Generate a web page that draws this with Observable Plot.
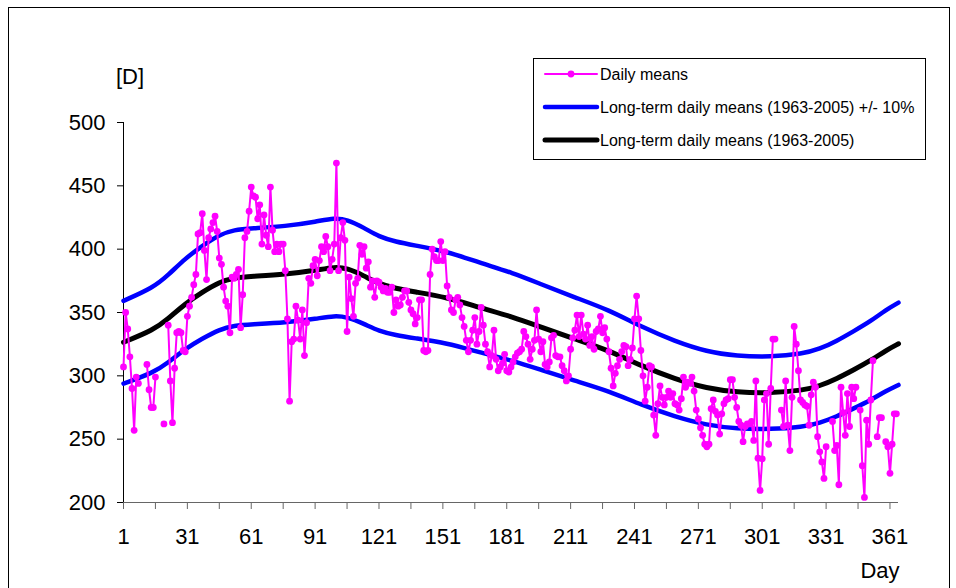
<!DOCTYPE html>
<html><head><meta charset="utf-8">
<script src="https://cdn.jsdelivr.net/npm/d3@7"></script>
<script src="https://cdn.jsdelivr.net/npm/@observablehq/plot@0.6"></script>
<style>
body{margin:0;background:#fff;}
#chart{position:relative;width:956px;height:588px;overflow:hidden;background:#fff}
</style>
</head><body><div id="chart"></div>
<script>
// Daily means, day 1..365 (null = no data)
const dailyMeans = [
307,350,337,315,290,257,299,294,null,null,
null,309,289,275,275,299,null,null,null,262,
null,340,296,263,306,334,335,334,320,319,
347,355,362,372,380,412,413,428,399,376,
409,416,421,426,414,393,388,370,359,355,
334,378,377,380,384,338,364,409,414,430,
449,442,441,424,435,404,427,411,402,449,
415,398,404,398,404,404,383,345,280,327,
329,355,344,329,352,316,342,377,373,387,
392,379,391,402,398,410,402,383,392,404,
468,383,409,421,407,335,378,361,347,373,
377,403,396,402,385,390,370,375,362,375,
374,370,367,369,366,366,370,350,360,355,
356,362,367,367,358,352,349,341,346,360,
360,320,319,320,380,400,394,391,391,406,
391,398,371,362,352,350,360,362,356,346,
339,328,319,328,336,346,325,335,354,340,
325,319,307,316,336,313,304,307,310,317,
304,303,307,311,315,318,319,321,335,331,
325,313,321,328,352,329,319,327,309,307,
311,330,332,316,315,315,308,304,296,300,
321,330,336,348,331,348,333,329,340,324,
331,321,335,337,347,334,338,329,319,306,
292,302,308,313,319,324,323,308,313,322,
345,363,345,320,300,280,291,308,307,269,
253,278,292,283,277,283,288,283,286,278,
277,273,282,299,291,295,294,299,288,273,
266,259,253,246,244,246,274,281,272,269,
254,270,278,281,282,297,297,283,275,264,
261,248,260,262,262,264,249,296,235,209.5,
234.5,281,286,246,290,329,329,null,null,273,
260,296,261,241,283,339,325,304,281,279,
277,276,261,285,295,291,252,240,232,219,
244,null,null,264,241,245,214,291,271,253,
286,260,291,282,291,null,273,229,204,265,
246,281,312,null,252,267,267,null,248,244,
223,246,270,270,null
];

// Long-term daily means (1963-2005), read at sample days
const meanDays   = [1,15,22,30,38,46,53,61,77,92,100,106,114,121,129,137,153,168,184,197,213,229,244,260,275,289,305,320,328,336,344,352,359,365];
const meanValues = [326.5,336,345,357,366,374,377.5,378.5,380,383.5,386,385,379,372.5,369,366.5,362,354,346.5,338.5,329,320,308,297.5,290,287,286.3,288.5,292,297.7,304.8,312,320,325.3];
// Long-term daily means +/- 10%
const upperValues = [359.2,369.6,379.5,392.7,402.6,411.4,415.3,416.4,418,421.9,424.6,423.5,416.9,409.8,405.9,403.2,398.2,389.4,381.2,372.4,361.9,352,338.8,327.3,319,315.7,314.9,317.4,321.2,327.5,335.3,343.2,352,357.8];
const lowerValues = [293.9,302.4,310.5,321.3,329.4,336.6,339.8,340.7,342,345.2,347.4,346.5,341.1,335.3,332.1,329.9,325.8,318.6,311.9,304.7,296.1,288,277.2,267.8,261,258.3,257.7,259.7,262.8,267.9,274.3,280.8,288,292.8];

const xTickLabels = [1,31,61,91,121,151,181,211,241,271,301,331,361];
const xMinorTicks = [1,16,31,46,61,76,91,106,121,136,151,166,181,196,211,226,241,256,271,286,301,316,331,346,361];
const yTicks = [200,250,300,350,400,450,500];
const legendLabels = ["Daily means","Long-term daily means (1963-2005) +/- 10%","Long-term daily means (1963-2005)"];
const colors = {daily:"#FF00FF", band:"#0000FF", mean:"#000000"};

const daily = dailyMeans.map((v,i)=>({day:i+1, value:v}));
const mean = meanDays.map((d,i)=>({day:d, mean:meanValues[i], upper:upperValues[i], lower:lowerValues[i]}));

const font = "'Liberation Sans', Arial, sans-serif";

const plot = Plot.plot({
  width:956, height:588,
  marginLeft:123, marginRight:58, marginTop:122, marginBottom:86,
  style:{fontFamily:font, fontSize:"22px", color:"#000", background:"#fff", overflow:"visible"},
  x:{domain:[1,365]},
  y:{domain:[200,500]},
  marks:[
    Plot.axisY({ticks:yTicks, tickSize:6, tickPadding:12, stroke:"#000", fontSize:22, label:null}),
    Plot.axisX({ticks:xMinorTicks, tickSize:7, stroke:"#666", tickFormat:()=>"", label:null}),
    Plot.axisX({ticks:xTickLabels, tickSize:0, tickPadding:26, fontSize:22, label:null}),
    Plot.ruleY([200], {stroke:"#666", strokeWidth:1}),
    Plot.ruleX([1], {stroke:"#000", strokeWidth:1}),
    Plot.line(mean, {x:"day", y:"upper", stroke:colors.band, strokeWidth:4.5, curve:"basis"}),
    Plot.line(mean, {x:"day", y:"lower", stroke:colors.band, strokeWidth:4.5, curve:"basis"}),
    Plot.line(mean, {x:"day", y:"mean", stroke:colors.mean, strokeWidth:5, curve:"basis"}),
    Plot.line(daily, {x:"day", y:"value", stroke:colors.daily, strokeWidth:2}),
    Plot.dot(daily, {x:"day", y:"value", fill:colors.daily, r:3.4})
  ]
});

const svg = d3.select(plot);
// outer chart border
svg.insert("rect", ":first-child").attr("x",8.5).attr("y",7.5).attr("width",941).attr("height",600)
   .attr("fill","#fff").attr("stroke","#000").attr("stroke-width",1);
// axis titles
svg.append("text").attr("x",130).attr("y",84).attr("text-anchor","middle")
   .attr("font-family",font).attr("font-size",22).attr("fill","#000").text("[D]");
svg.append("text").attr("x",880).attr("y",578).attr("text-anchor","middle")
   .attr("font-family",font).attr("font-size",22).attr("fill","#000").text("Day");
// legend
const lg = svg.append("g");
lg.append("rect").attr("x",533.5).attr("y",58.5).attr("width",392).attr("height",101)
  .attr("fill","#fff").attr("stroke","#000").attr("stroke-width",1);
const ly = [74,107,140];
const lstroke = [colors.daily, colors.band, colors.mean];
const lwidth = [2,4.5,5];
legendLabels.forEach((t,i)=>{
  lg.append("line").attr("x1",545).attr("x2",597).attr("y1",ly[i]).attr("y2",ly[i])
    .attr("stroke",lstroke[i]).attr("stroke-width",lwidth[i]).attr("stroke-linecap","round");
  if(i===0) lg.append("circle").attr("cx",571).attr("cy",ly[i]).attr("r",3.4).attr("fill",colors.daily);
  lg.append("text").attr("x",600).attr("y",ly[i]+5.5).attr("text-anchor","start")
    .attr("font-family",font).attr("font-size",16).attr("fill","#000").text(t);
});

document.getElementById("chart").appendChild(plot);
</script>
</body></html>
